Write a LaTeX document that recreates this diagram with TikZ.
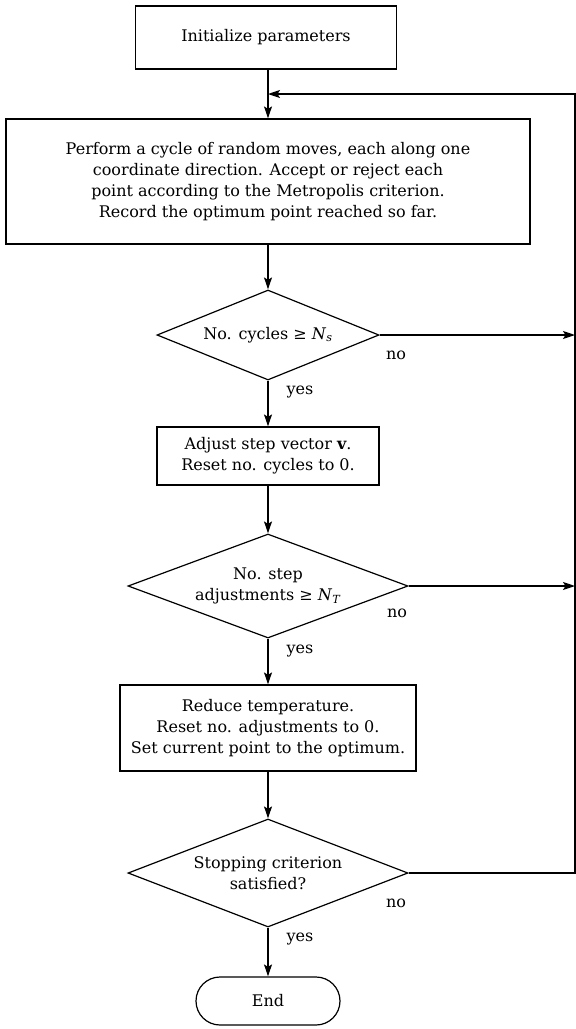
\documentclass[tikz,border=0pt]{standalone}
\usepackage{fontspec}
\setmainfont{DejaVu Serif}
\usetikzlibrary{arrows.meta,shapes.geometric,calc}
\begin{document}
\begin{tikzpicture}[x=1pt,y=-1pt,
  every node/.style={font=\fontsize{16}{21}\selectfont},
  box/.style={draw, line width=1.2pt, inner sep=0pt, align=center},
  dia/.style={draw, line width=1.2pt, shape=diamond, inner sep=0pt},
  flow/.style={line width=1.2pt, -{Stealth[length=12pt,width=8pt,inset=2.5pt]}},
  lab/.style={inner sep=0pt}]
\useasboundingbox (0,0) rectangle (576,1029);
% boxes
\node[box, minimum width=261pt, minimum height=63pt] (init) at (266,37.5) {Initialize parameters};
\node[box, minimum width=524pt, minimum height=125pt] (main) at (268,181.5)
  {Perform a cycle of random moves, each along one\\
   coordinate direction. Accept or reject each\\
   point according to the Metropolis criterion.\\
   Record the optimum point reached so far.};
\node[dia, minimum width=222pt, minimum height=90pt] (d1) at (268,335) {};
\node[lab] (d1t) at (d1.center) {No. cycles ≥ \textit{N}\textsubscript{\textit{s}}};
\node[box, minimum width=222pt, minimum height=58pt] (b2) at (268,456)
  {Adjust step vector \textbf{v}.\\ Reset no. cycles to 0.};
\node[dia, minimum width=280pt, minimum height=104pt] (d2) at (268,586) {};
\node[lab, align=center] (d2t) at (d2.center) {No. step\\ adjustments ≥ \textit{N}\textsubscript{\textit{T}}};
\node[box, minimum width=296pt, minimum height=86pt] (b3) at (268,728)
  {Reduce temperature.\\ Reset no. adjustments to 0.\\ Set current point to the optimum.};
\node[dia, minimum width=280pt, minimum height=108pt] (d3) at (268,873) {};
\node[lab, align=center] (d3t) at (d3.center) {Stopping criterion\\ satisfied?};
\node[box, minimum width=144pt, minimum height=48pt, rounded corners=24pt] (end) at (268,1001) {End};
% labels
\node[lab] (no1) at (396,355) {no};
\node[lab] (no2) at (397,613) {no};
\node[lab] (no3) at (396,903) {no};
\node[lab] (yes1) at (300,392) {yes};
\node[lab] (yes2) at (300,651) {yes};
\node[lab] (yes3) at (300,939) {yes};
% helper coordinates
\coordinate (fbtop) at (575,94);
\coordinate (merge) at (268,94);
\coordinate (r1) at (575,335);
\coordinate (r2) at (575,586);
\coordinate (r3) at (575,873);
% connectors
\draw[flow] (merge |- init.south) -- (main.north);
\draw[flow] (main.south) -- (d1.north);
\draw[flow] (d1.south) -- (b2.north);
\draw[flow] (b2.south) -- (d2.north);
\draw[flow] (d2.south) -- (b3.north);
\draw[flow] (b3.south) -- (d3.north);
\draw[flow] (d3.south) -- (end.north);
\draw[flow] (d1.east) -- (r1);
\draw[flow] (d2.east) -- (r2);
\draw[flow] (d3.east) -- (r3) -- (fbtop) -- (merge);
\end{tikzpicture}
\end{document}
